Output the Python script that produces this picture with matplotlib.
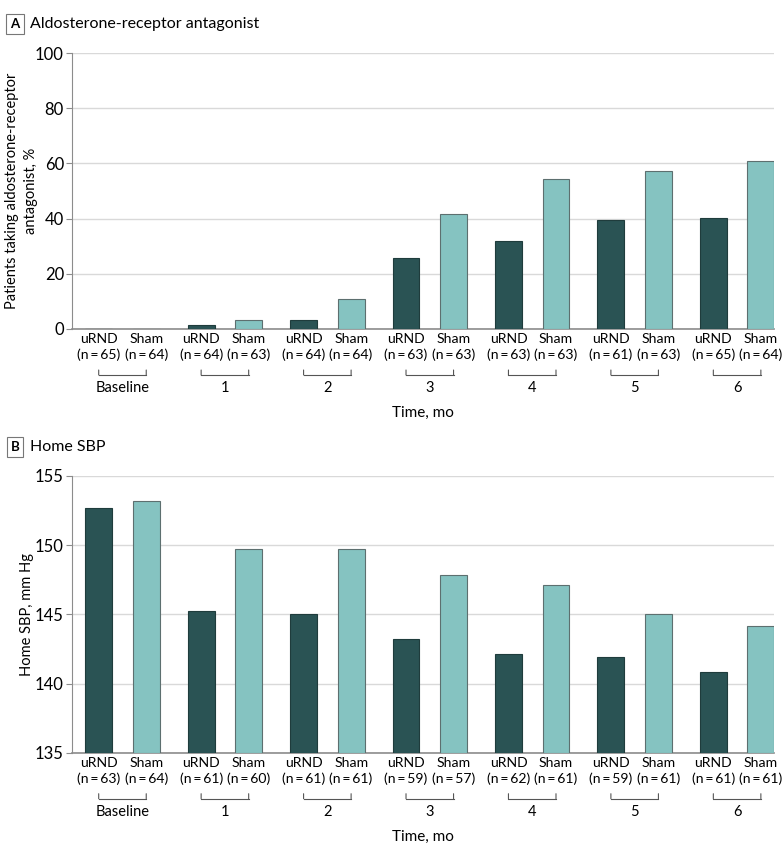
import numpy as np
import matplotlib
matplotlib.use("Agg")
import matplotlib.pyplot as plt
from matplotlib.transforms import offset_copy

plt.rcParams['font.family'] = ['Lato', 'DejaVu Sans']

# data
groups = ["Baseline", "1", "2", "3", "4", "5", "6"]

ara_urnd = [0.0, 1.6, 3.2, 25.6, 31.9, 39.4, 40.1]
ara_sham = [0.0, 3.2, 10.9, 41.5, 54.2, 57.1, 61.0]
ara_n_urnd = [65, 64, 64, 63, 63, 61, 65]
ara_n_sham = [64, 63, 64, 63, 63, 63, 64]

sbp_urnd = [152.66, 145.22, 145.0, 143.19, 142.13, 141.9, 140.81]
sbp_sham = [153.17, 149.7, 149.7, 147.82, 147.1, 145.0, 144.13]
sbp_n_urnd = [63, 61, 61, 59, 62, 59, 61]
sbp_n_sham = [64, 60, 61, 57, 61, 61, 61]

dark = "#2a5354"
light = "#85c3c1"
grid_c = "#d9d9d9"
spine_c = "#8c8c8c"
fs = 9.5

fig = plt.figure(figsize=(7.83, 8.51), dpi=100)
ax_a = fig.add_axes([0.0923, 0.6134, 0.8967, 0.3243])
ax_b = fig.add_axes([0.0923, 0.1155, 0.8967, 0.3252])

off = 0.232
w = 0.263


def draw(ax, urnd, sham, n_u, n_s, ylim, yticks, ylabel, lab_x):
    x = np.arange(len(groups))
    base = ylim[0]
    ax.bar(x - off, np.array(urnd) - base, w, bottom=base, color=dark,
           edgecolor="#1f3c3c", linewidth=0.8, zorder=3)
    ax.bar(x + off, np.array(sham) - base, w, bottom=base, color=light,
           edgecolor="#5d6f6f", linewidth=0.8, zorder=3)
    ax.set_xlim(-0.49, 6.364)
    ax.set_ylim(*ylim)
    ax.set_yticks(yticks)
    ax.yaxis.grid(True, color=grid_c, linewidth=1)
    ax.set_axisbelow(True)
    for s in ["top", "right"]:
        ax.spines[s].set_visible(False)
    ax.spines["left"].set_color(spine_c)
    ax.spines["bottom"].set_color(spine_c)
    ax.spines["bottom"].set_linewidth(1.2)
    ax.tick_params(axis="y", color=spine_c, length=4, labelsize=fs + 2.5, pad=2)
    ticks = np.concatenate([x - off, x + off])
    labels = [f"uRND\n(n\u2009=\u2009{n})" for n in n_u] + \
             [f"Sham\n(n\u2009=\u2009{n})" for n in n_s]
    ax.set_xticks(ticks)
    ax.set_xticklabels(labels, fontsize=fs + 0.6, linespacing=1.3)
    ax.tick_params(axis="x", length=0, pad=3)
    ax.set_ylabel(ylabel, fontsize=fs + 1, linespacing=1.45)
    ax.yaxis.set_label_coords(lab_x, 0.5)

    tr = ax.get_xaxis_transform()
    tr_br = offset_copy(tr, fig=fig, y=-46, units="dots")
    tr_br2 = offset_copy(tr, fig=fig, y=-41, units="dots")
    for i, g in enumerate(groups):
        ax.plot([i - off, i + off], [0, 0], color="#555555", lw=0.8,
                transform=tr_br, clip_on=False)
        # small vertical end ticks of the bracket
        for xx in (i - off, i + off):
            ax.annotate("", xy=(xx, 0), xycoords=tr_br,
                        xytext=(xx, 0), textcoords=tr_br2,
                        arrowprops=dict(arrowstyle="-", color="#555555",
                                        lw=0.8, shrinkA=0, shrinkB=0),
                        annotation_clip=False)
        ax.annotate(g, xy=(i, 0), xycoords=tr, xytext=(0, -59),
                    textcoords="offset pixels", ha="center", va="center",
                    fontsize=fs + 1, annotation_clip=False)
    ax.text(0.5, 0, "Time, mo", transform=offset_copy(ax.transAxes, fig=fig,
            y=-84, units="dots"), ha="center", va="center", fontsize=fs + 1.5)


draw(ax_a, ara_urnd, ara_sham, ara_n_urnd, ara_n_sham, (0, 100),
     [0, 20, 40, 60, 80, 100],
     "Patients taking aldosterone-receptor\nantagonist, %", -0.049)
draw(ax_b, sbp_urnd, sbp_sham, sbp_n_urnd, sbp_n_sham, (135, 155),
     [135, 140, 145, 150, 155], "Home SBP, mm Hg", -0.055)

box = dict(boxstyle="square,pad=0.3", facecolor="white", edgecolor="#777777",
           linewidth=0.8)
fig.text(15 / 783, 1 - 24 / 851, "A", ha="center", va="center", fontsize=fs,
         fontweight="bold", bbox=box)
fig.text(30 / 783, 1 - 24 / 851, "Aldosterone-receptor antagonist",
         ha="left", va="center", fontsize=fs + 2)
fig.text(15 / 783, 1 - 447 / 851, "B", ha="center", va="center", fontsize=fs,
         fontweight="bold", bbox=box)
fig.text(30 / 783, 1 - 447 / 851, "Home SBP", ha="left", va="center",
         fontsize=fs + 2)

fig.savefig("out.png", dpi=100)
